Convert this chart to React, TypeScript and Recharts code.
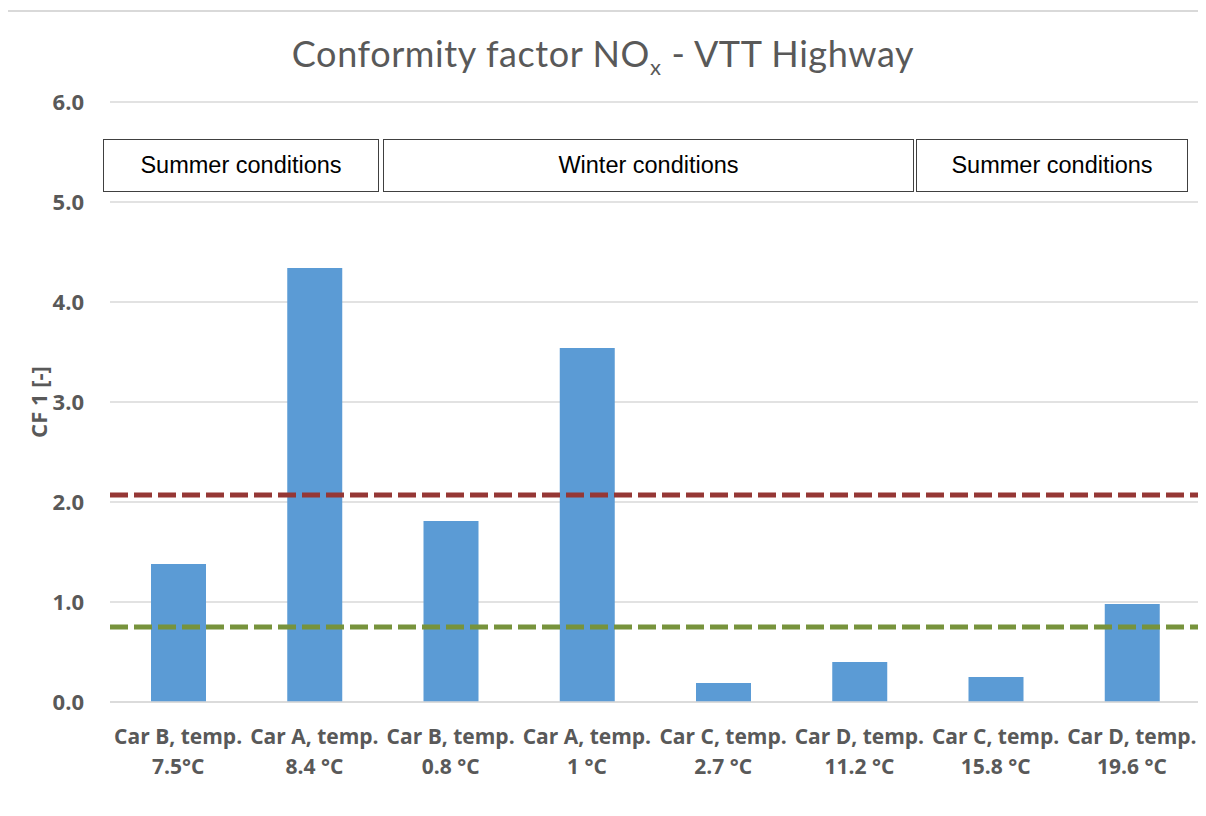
import { BarChart, Bar, XAxis, YAxis, CartesianGrid, ReferenceLine } from "recharts";

// categories (two-line tick labels)
const carLabels = ["Car B, temp.", "Car A, temp.", "Car B, temp.", "Car A, temp.", "Car C, temp.", "Car D, temp.", "Car C, temp.", "Car D, temp."];
const tempLabels = ["7.5°C", "8.4 °C", "0.8 °C", "1 °C", "2.7 °C", "11.2 °C", "15.8 °C", "19.6 °C"];
const cfValues = [1.38, 4.34, 1.81, 3.54, 0.19, 0.4, 0.25, 0.98];
const yTicks = [0, 1, 2, 3, 4, 5, 6];
const redLimit = 2.07;
const greenLimit = 0.75;

const data = carLabels.map((car, i) => ({
  name: `${car} ${tempLabels[i]}`,
  car,
  temp: tempLabels[i],
  cf: cfValues[i],
}));

const GRAY = "#595959";
const AXIS_FONT = "'Open Sans', sans-serif";

function CarTick({ x, y, index }: any) {
  return (
    <text x={x} y={y} textAnchor="middle" fill={GRAY} fontSize={21} fontWeight="bold" fontFamily={AXIS_FONT}>
      <tspan x={x} dy={34}>{carLabels[index]}</tspan>
      <tspan x={x} dy={30}>{tempLabels[index]}</tspan>
    </text>
  );
}

const boxStyle: React.CSSProperties = {
  position: "absolute",
  top: 139,
  height: 53,
  boxSizing: "border-box",
  border: "1px solid #404040",
  background: "#fff",
  display: "flex",
  alignItems: "center",
  justifyContent: "center",
  fontFamily: "'Liberation Sans', Arial, sans-serif",
  fontSize: 23.5,
  color: "#000",
};

export default function App() {
  return (
    <div style={{ position: "relative", width: 1206, height: 816, margin: -8, overflow: "hidden", background: "#fff" }}>
      {/* chart frame */}
      <div style={{ position: "absolute", left: 5, top: 10, right: -60, bottom: -60, border: "2px solid #d9d9d9" }} />

      <div
        style={{
          position: "absolute", left: 0, top: 31, width: 1206, textAlign: "center",
          fontFamily: "Lato, sans-serif", fontSize: 36, color: GRAY, lineHeight: "44px", letterSpacing: 0.6,
        }}
      >
        Conformity factor NO<sub style={{ fontSize: 22, verticalAlign: "-8px" }}>x</sub> - VTT Highway
      </div>

      <div style={{ position: "absolute", left: 0, top: 0 }}>
        <BarChart width={1206} height={816} data={data} margin={{ top: 102, right: 6, bottom: 34, left: 36 }} barSize={55}>
          <CartesianGrid vertical={false} stroke="#d9d9d9" strokeWidth={1.5} />
          <XAxis
            dataKey="name"
            interval={0}
            tick={<CarTick />}
            tickLine={false}
            axisLine={{ stroke: "#d9d9d9", strokeWidth: 1.5 }}
            height={80}
          />
          <YAxis
            width={74}
            domain={[0, 6]}
            ticks={yTicks}
            tickFormatter={(v: number) => v.toFixed(1)}
            axisLine={false}
            tickLine={false}
            tickMargin={20}
            tick={{ fill: GRAY, fontSize: 22, fontWeight: "bold", fontFamily: AXIS_FONT }}
            label={{
              value: "CF 1 [-]", angle: -90, position: "insideLeft", dx: -2,
              style: { fill: GRAY, fontSize: 22, fontWeight: "bold", fontFamily: AXIS_FONT, textAnchor: "middle" },
            }}
          />
          <Bar dataKey="cf" fill="#5B9BD5" isAnimationActive={false} />
          <ReferenceLine y={redLimit} stroke="#953735" strokeWidth={5} strokeDasharray="18 6" />
          <ReferenceLine y={greenLimit} stroke="#77933C" strokeWidth={5} strokeDasharray="18 6" />
        </BarChart>
      </div>

      <div style={{ ...boxStyle, left: 103, width: 276 }}>Summer conditions</div>
      <div style={{ ...boxStyle, left: 383, width: 531 }}>Winter conditions</div>
      <div style={{ ...boxStyle, left: 916, width: 272 }}>Summer conditions</div>
    </div>
  );
}
